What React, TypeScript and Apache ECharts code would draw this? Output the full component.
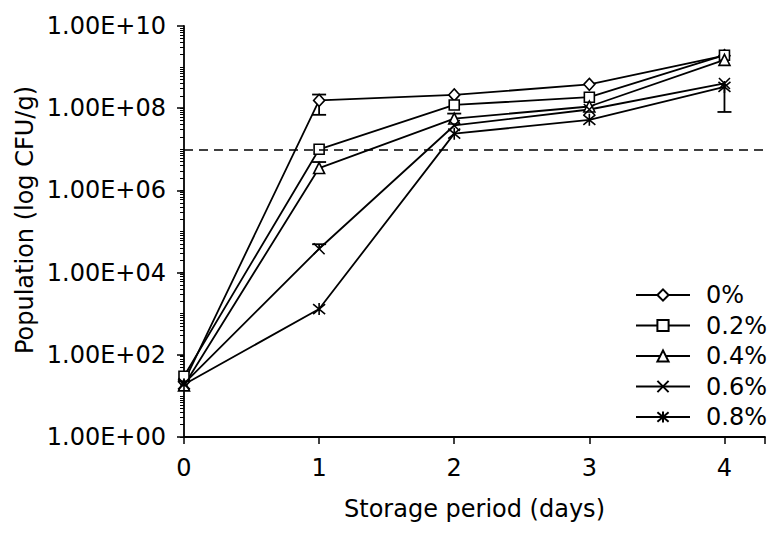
import React, { useEffect, useRef } from 'react';
import * as echarts from 'echarts';

// ---- data ----
const days = [0, 1, 2, 3, 4];
const seriesNames = ['0%', '0.2%', '0.4%', '0.6%', '0.8%'];
const pop0 = [22, 1.55e8, 2.1e8, 3.8e8, 1.9e9];
const pop02 = [30, 1.0e7, 1.2e8, 1.85e8, 1.95e9];
const pop04 = [18, 3.5e6, 5.6e7, 1.1e8, 1.5e9];
const pop06 = [20, 3.8e4, 3.8e7, 9.3e7, 4.0e8];
const pop08 = [19, 1.3e3, 2.4e7, 5.2e7, 3.3e8];
// error bars: [day, low, high]
const err0 = [[1, 6.9e7, 2.15e8]];
const err02: number[][] = [];
const err04 = [[1, 3.5e6, 4.9e6], [2, 5.6e7, 7.4e7]];
const err06 = [[1, 3.8e4, 4.9e4]];
const err08 = [[4, 8.1e7, 3.3e8]];
const threshold = 1e7;
const xTickValues = [0, 1, 2, 3, 4];
const yTickLabels = ['1.00E+00', '1.00E+02', '1.00E+04', '1.00E+06', '1.00E+08', '1.00E+10'];

const FONT = '"DejaVu Sans", Verdana, sans-serif';

const X_PATH = 'path://M0 0L10 10M10 0L0 10';
const AST_PATH = 'path://M0 0L10 10M10 0L0 10M5 -1L5 11';

export default function App() {
  const ref = useRef<HTMLDivElement>(null);
  useEffect(() => {
    if (!ref.current) return;
    const chart = echarts.init(ref.current, null, { renderer: 'svg' });
    const pops = [pop0, pop02, pop04, pop06, pop08];
    const errs = [err0, err02, err04, err06, err08];
    const symbols = ['diamond', 'rect', 'triangle', X_PATH, AST_PATH];
    const sizes = [[11, 12], 10, 11, 11, 12];

    const minorVals: number[] = [];
    for (let e = 0; e < 10; e++) for (let k = 1; k <= 9; k++) minorVals.push(k * Math.pow(10, e));

    const lineSeries = seriesNames.map((name, i) => ({
      type: 'line',
      name,
      data: days.map((d, j) => [d, pops[i][j]]),
      symbol: symbols[i],
      symbolSize: sizes[i],
      showAllSymbol: true,
      z: 3,
      lineStyle: { color: '#000', width: 1.8 },
      itemStyle: { color: '#fff', borderColor: '#000', borderWidth: 1.6 },
      emphasis: { disabled: true },
      ...(i === 0
        ? {
            markLine: {
              silent: true,
              symbol: 'none',
              label: { show: false },
              lineStyle: { color: '#000', width: 1.6, type: [9, 6] },
              data: [{ yAxis: threshold }],
            },
          }
        : {}),
    }));

    const errSeries = errs.map((er, i) => ({
      type: 'custom',
      name: 'err' + i,
      z: 2,
      data: er.map((e) => [e[0], e[1], e[2], pops[i][days.indexOf(e[0])]]),
      dimensions: ['x', 'lo', 'hi', 'mean'],
      encode: { x: 0, y: [1, 2] },
      renderItem: (params: any, api: any) => {
        const x = api.value(0);
        const lo = api.value(1);
        const hi = api.value(2);
        const m = api.value(3);
        const pLo = api.coord([x, lo]);
        const pHi = api.coord([x, hi]);
        const w = 7;
        const st = { stroke: '#000', lineWidth: 1.8 };
        const children: any[] = [
          { type: 'line', shape: { x1: pLo[0], y1: pLo[1], x2: pHi[0], y2: pHi[1] }, style: st },
        ];
        if (lo < m) children.push({ type: 'line', shape: { x1: pLo[0] - w, y1: pLo[1], x2: pLo[0] + w, y2: pLo[1] }, style: st });
        if (hi > m) children.push({ type: 'line', shape: { x1: pHi[0] - w, y1: pHi[1], x2: pHi[0] + w, y2: pHi[1] }, style: st });
        return { type: 'group', children };
      },
    }));

    chart.setOption({
      animation: false,
      backgroundColor: '#fff',
      textStyle: { fontFamily: FONT, color: '#000' },
      grid: { left: 184, top: 26, width: 581, height: 411, containLabel: false },
      xAxis: {
        type: 'value',
        min: 0,
        max: 4.3,
        interval: 1,
        name: 'Storage period (days)',
        nameLocation: 'middle',
        nameGap: 60,
        nameTextStyle: { fontSize: 24, color: '#000', fontFamily: FONT },
        axisLine: { show: true, lineStyle: { color: '#000', width: 1.8 } },
        axisTick: { show: true, length: 7, lineStyle: { color: '#000', width: 1.5 }, customValues: [...xTickValues, 4.3] },
        axisLabel: { fontSize: 24, color: '#000', fontFamily: FONT, margin: 19, customValues: xTickValues },
        splitLine: { show: false },
      },
      yAxis: [
        {
          type: 'log',
          logBase: 10,
          min: 1,
          max: 1e10,
          interval: 2,
          axisLine: { show: true, lineStyle: { color: '#000', width: 1.8 } },
          axisTick: { show: true, length: 7, lineStyle: { color: '#000', width: 1.5 } },
          axisLabel: {
            fontSize: 24,
            color: '#000',
            fontFamily: FONT,
            margin: 18,
            formatter: (v: number) => yTickLabels[Math.round(Math.log10(v) / 2)] ?? '',
          },
          splitLine: { show: false },
        },
        {
          type: 'log',
          logBase: 10,
          min: 1,
          max: 1e10,
          position: 'left',
          axisLine: { show: false },
          axisLabel: { show: false },
          splitLine: { show: false },
          axisTick: { show: true, length: 4, lineStyle: { color: '#000', width: 1 }, customValues: minorVals },
        },
      ],
      legend: {
        orient: 'vertical',
        left: 635,
        top: 283,
        padding: 0,
        data: seriesNames,
        itemWidth: 54,
        itemHeight: 14,
        itemGap: 6.5,
        selectedMode: false,
        textStyle: { fontSize: 24, color: '#000', fontFamily: FONT, lineHeight: 24, padding: [0, 0, 0, 11] },
      },
      graphic: [
        {
          type: 'text',
          x: 25,
          y: 220,
          rotation: Math.PI / 2,
          style: {
            text: 'Population (log CFU/g)',
            font: '24px ' + FONT,
            fill: '#000',
            align: 'center',
            verticalAlign: 'middle',
          },
        },
      ],
      series: [...errSeries, ...lineSeries],
    });
    return () => chart.dispose();
  }, []);
  return <div ref={ref} style={{ position: 'fixed', left: 0, top: 0, width: 782, height: 533, background: '#fff' }} />;
}
